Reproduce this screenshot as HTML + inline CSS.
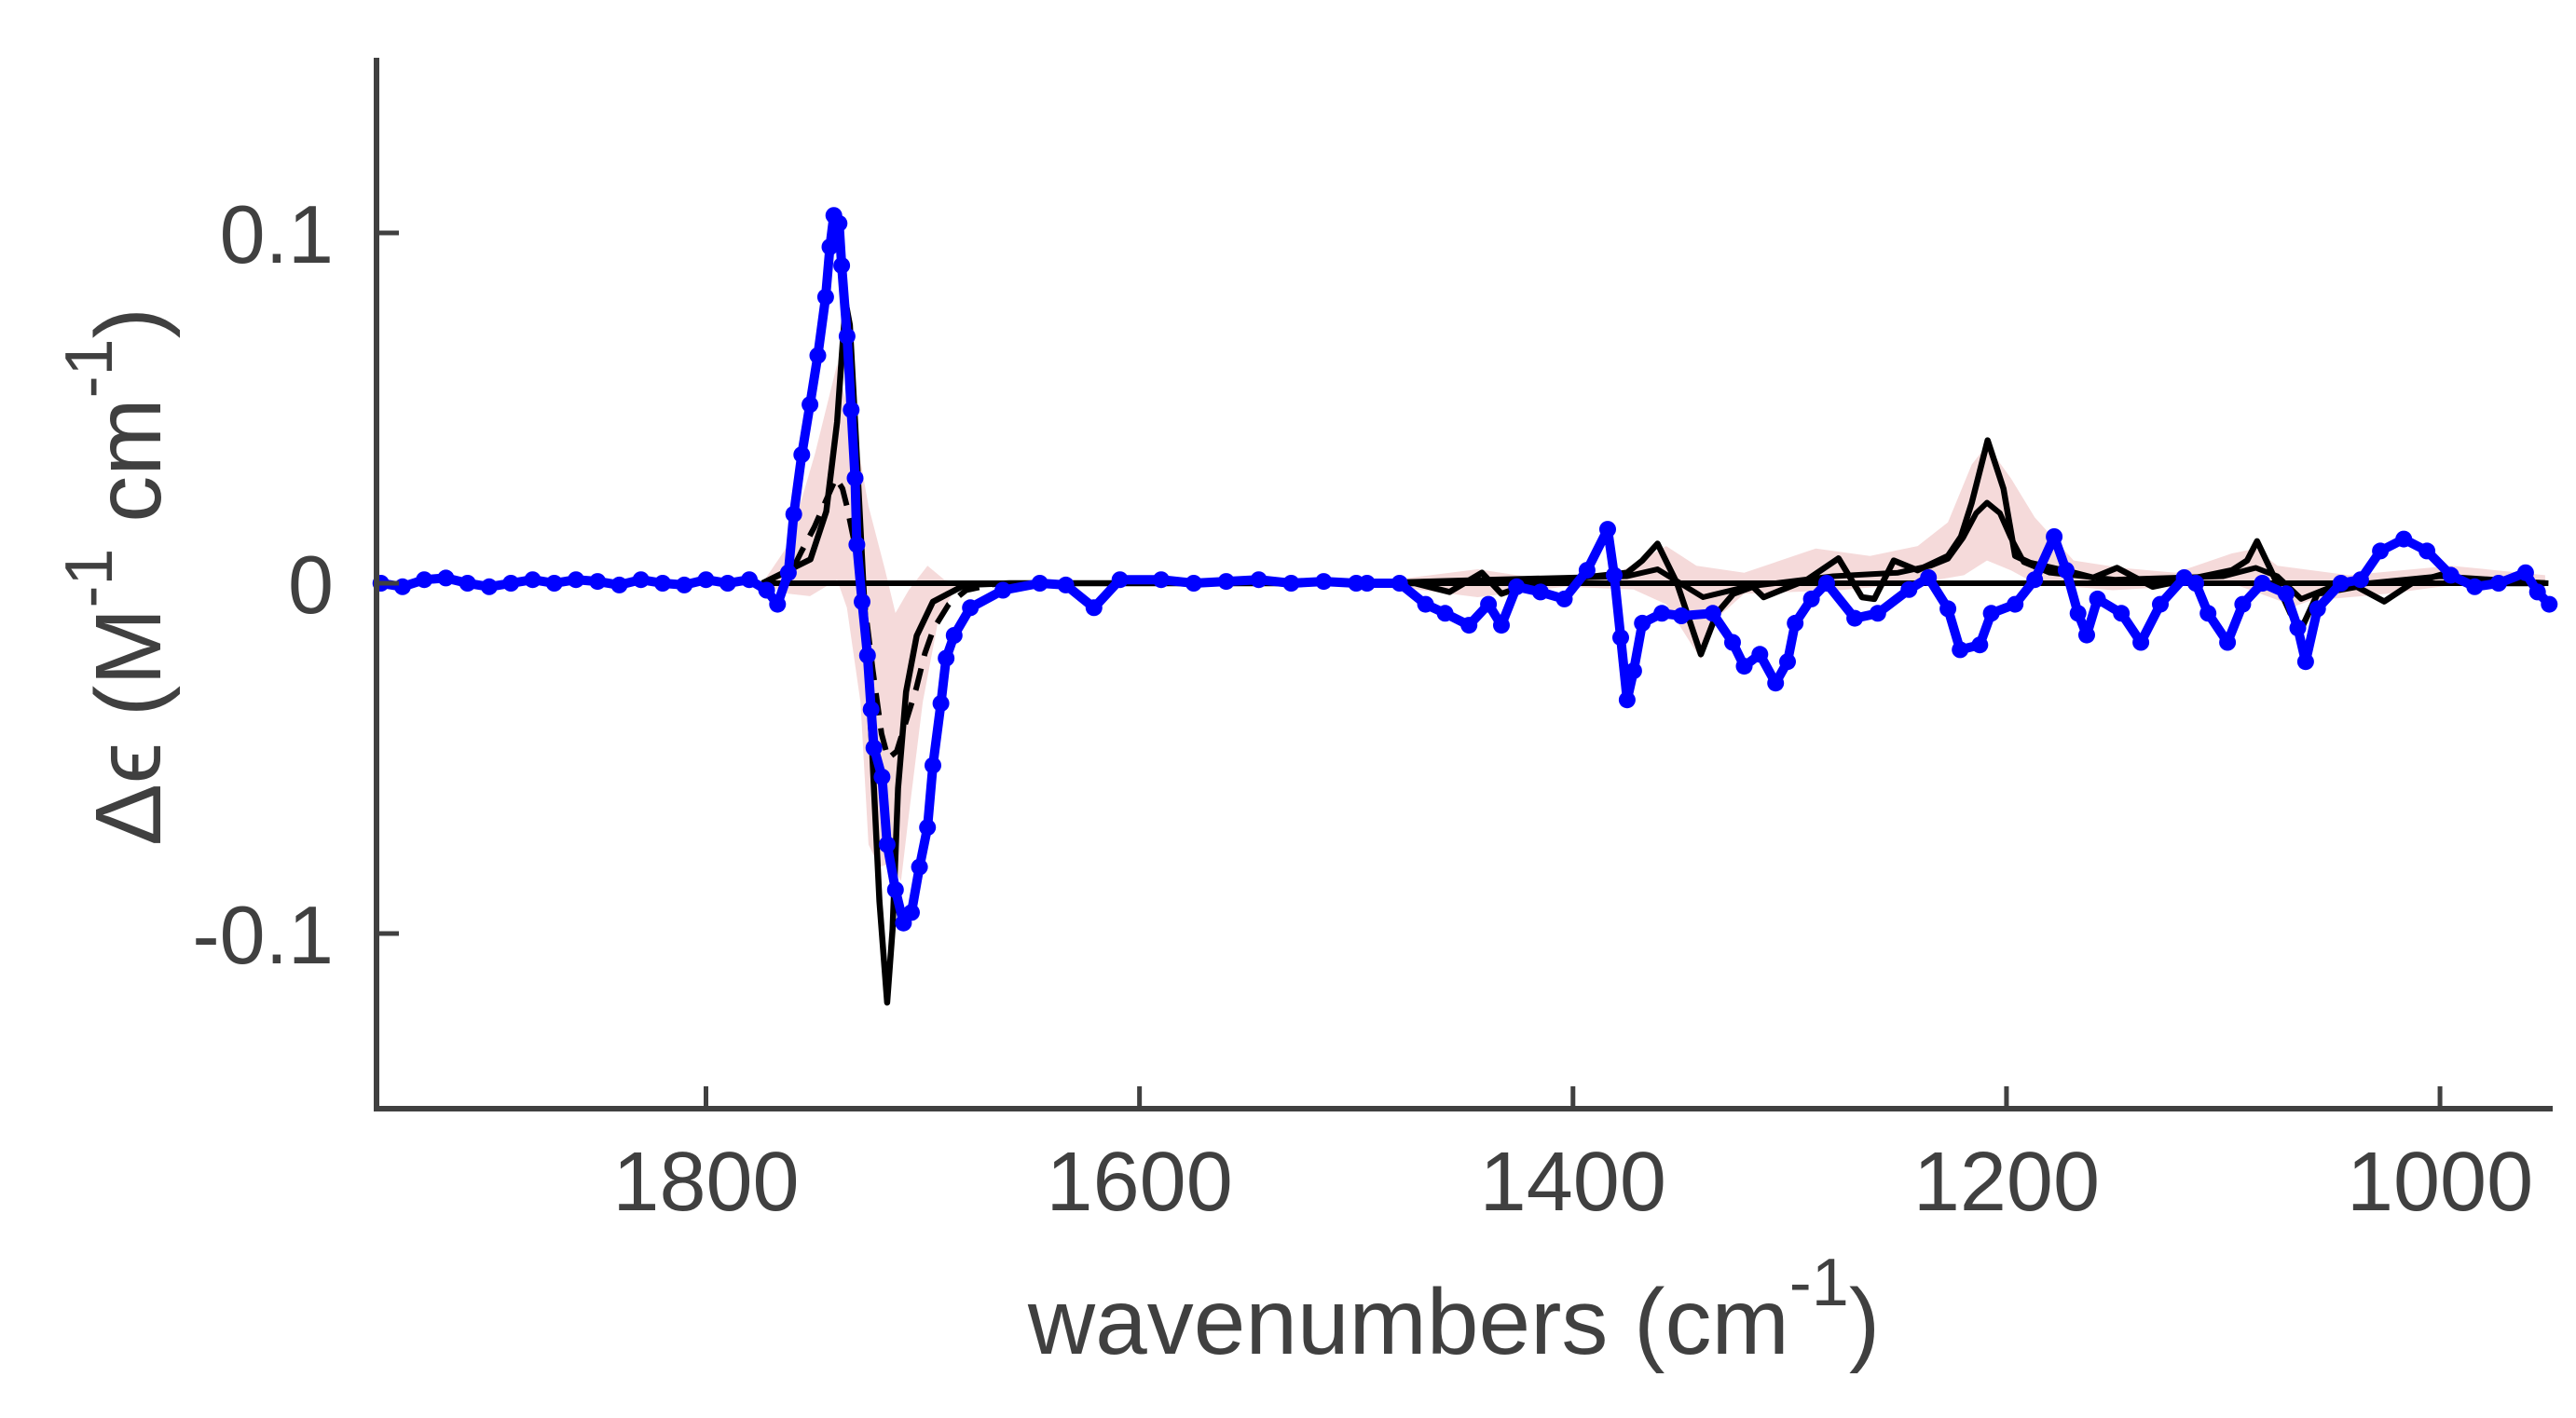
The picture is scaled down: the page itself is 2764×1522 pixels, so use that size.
<!DOCTYPE html>
<html><head><meta charset="utf-8"><title>CD spectrum</title>
<style>
html,body{margin:0;padding:0;background:#fff;}
svg{display:block;}
text{font-family:"Liberation Sans",Arial,sans-serif;fill:#404040;}
</style></head>
<body>
<svg id="chart" width="2764" height="1522" viewBox="0 0 2764 1522" xmlns="http://www.w3.org/2000/svg" style="position:absolute;left:0;top:0">
  <g id="band"></g>
  <g id="lines"></g>
  <g id="blue"></g>
  <g id="axes"></g>
  <text x="1560" y="1453" text-anchor="middle" font-size="100" fill="#404040">wavenumbers (cm<tspan dy="-52" font-size="72">-1</tspan><tspan dy="52">)</tspan></text>
  <text transform="translate(172,619) rotate(-90)" text-anchor="middle" font-size="100" fill="#404040">Δϵ (M<tspan dy="-52" font-size="72">-1</tspan><tspan dy="52"> cm</tspan><tspan dy="-52" font-size="72">-1</tspan><tspan dy="52">)</tspan></text>
</svg>
<script>
// ---- data ----
const xDomain = [1952, 948];
const yDomain = [-0.15, 0.15];
const xTicks = [1800, 1600, 1400, 1200, 1000];
const xTickLabels = ["1800", "1600", "1400", "1200", "1000"];
const yTicks = [0.1, 0, -0.1];
const yTickLabels = ["0.1", "0", "-0.1"];

const blueW = [1950,1940,1930,1920,1910,1900,1890,1880,1870,1860,1850,1840,1830,1820,1810,1800,1790,1780,1772,1767,1762,1759.5,1755.8,1752,1748.4,1744.8,1742.8,1741,1738.6,1737.4,1734.9,1733,1731.2,1730.4,1728,1725.5,1723.8,1722.5,1718.8,1716.4,1712.6,1708.9,1705.2,1701.5,1697.8,1695.3,1691.6,1689.2,1685.5,1678,1663,1646,1634,1621,1609,1590,1575,1560,1545,1530,1515,1500,1495,1480,1468,1459,1448,1439,1433,1426,1415,1404,1393.5,1384,1381,1378,1375,1372,1368,1359,1350,1335.5,1326.4,1321,1313.8,1306.5,1301,1297.5,1290,1283,1270,1259.4,1245,1236,1227,1221.4,1212.3,1207,1196,1187,1178,1172.5,1167,1163,1158,1147,1138,1129,1118,1112.7,1107,1098,1091,1082,1071,1065.6,1062,1056.5,1045.7,1036.6,1027.5,1016.7,1006,995,984,973,960.5,955,949.6];
const blueV = [0,-0.001,0.001,0.0015,0,-0.001,0,0.001,0,0.001,0.0005,-0.0005,0.001,0,-0.0005,0.001,0,0.001,-0.002,-0.006,0.003,0.0197,0.0367,0.051,0.065,0.0817,0.096,0.105,0.1027,0.0907,0.0705,0.0495,0.030,0.011,-0.0053,-0.0206,-0.036,-0.047,-0.0553,-0.0746,-0.0875,-0.097,-0.094,-0.081,-0.0697,-0.052,-0.0343,-0.0214,-0.0149,-0.007,-0.002,0,-0.0005,-0.007,0.001,0.001,0,0.0005,0.001,0,0.0005,0,0,0,-0.006,-0.0086,-0.012,-0.006,-0.012,-0.001,-0.0025,-0.0045,0.0037,0.0154,0.0023,-0.0155,-0.0333,-0.025,-0.0114,-0.0086,-0.0093,-0.0086,-0.0169,-0.0237,-0.0203,-0.0285,-0.0224,-0.0114,-0.0045,0,-0.01,-0.0086,-0.0018,0.0016,-0.0073,-0.019,-0.0176,-0.0086,-0.006,0.001,0.0133,0.0037,-0.0086,-0.0148,-0.0045,-0.0086,-0.0169,-0.006,0.0016,0,-0.0086,-0.0169,-0.006,0,-0.003,-0.0128,-0.0224,-0.0073,0,0.001,0.0092,0.0126,0.0092,0.0023,-0.001,0,0.003,-0.0025,-0.006];

const solidW = [1774,1751.8,1744.5,1739.5,1736.7,1735.5,1733.6,1731.2,1727.5,1723.8,1720,1716.4,1713.9,1711.4,1707.7,1702.8,1695.3,1680.6,1660,1500,1473,1457,1442,1433,1419,1375,1368,1361,1352,1341,1333.7,1326,1317,1312,1292,1277.5,1266.7,1261,1252,1241,1227,1221,1216,1208.7,1201.4,1196,1189,1169,1160,1149,1132.6,1096,1089,1084.4,1078,1069,1063.8,1056.5,1038.4,1025.7,1013,998.6,980.4,951.6];
const solidV = [0,0.0068,0.0205,0.046,0.0705,0.080,0.0737,0.046,0.001,-0.042,-0.0907,-0.1197,-0.0988,-0.0585,-0.031,-0.015,-0.0053,-0.0005,0,0,0,-0.0025,0.003,-0.003,0,0.003,0.0065,0.0113,0,-0.0203,-0.0086,-0.003,-0.001,-0.004,0.001,0.0071,-0.004,-0.0045,0.0065,0.0037,0.0078,0.0133,0.023,0.0408,0.027,0.0078,0.0058,0.003,0.0016,0.0044,-0.001,0.0037,0.0065,0.012,0.0037,-0.0086,-0.0128,-0.003,-0.001,-0.0052,0,0.0026,0,0];

const dashW = [1774,1760,1756,1750,1744,1740,1737,1735,1731,1727,1723,1719,1716,1712,1708,1703,1699,1695,1688,1680,1665];
const dashV = [0,0.004,0.009,0.016,0.0245,0.03,0.027,0.022,0.01,-0.005,-0.025,-0.043,-0.05,-0.048,-0.04,-0.03,-0.02,-0.013,-0.006,-0.002,0];
const dash2W = [1495,1440,1375,1361,1340,1320,1280,1250,1235,1227,1220,1214,1209,1203,1198,1192,1180,1150,1100,1085,1075,1064,1050,1000,950];
const dash2V = [0,0.001,0.002,0.004,-0.004,-0.001,0.002,0.003,0.005,0.007,0.013,0.02,0.023,0.02,0.013,0.006,0.003,0.001,0.002,0.0044,0.002,-0.0045,-0.001,0.002,0];

const zeroW = [1774, 950];
const zeroV = [0, 0];

const bandUpW = [1774,1762,1749.7,1739.5,1738.6,1731,1725,1717.6,1712.6,1706.5,1697.8,1690,1680.6,1495,1444,1404,1379,1357,1343,1321,1288,1263,1241,1227,1216,1209,1198,1187,1169,1147,1122,1096,1085,1075,1042,995,951.5];
const bandUpV = [0,0.011,0.037,0.0625,0.059,0.043,0.022,0.0044,-0.0085,-0.002,0.005,0.001,0,0,0.004,0.0003,0.003,0.0106,0.005,0.003,0.0099,0.0078,0.0106,0.0174,0.0339,0.0394,0.03,0.0188,0.0065,0.0044,0.003,0.0085,0.0099,0.005,0.0023,0.005,0.0023];
const bandLoW = [1774,1762,1752,1739.5,1735,1728.7,1725,1720,1715,1710,1706.5,1700,1693,1685.5,1670,1495,1444,1404,1372,1357,1341,1333.7,1321,1277,1241,1219.6,1209,1198,1187,1151,1096,1067,1060,1024,988,951.5];
const bandLoV = [0,-0.003,-0.0037,0.001,-0.007,-0.034,-0.0746,-0.081,-0.08,-0.085,-0.0665,-0.034,-0.011,-0.002,0,0,-0.004,-0.001,-0.0018,-0.006,-0.0217,-0.01,-0.003,-0.002,0,0.0023,0.0065,0.0037,0,-0.002,0,-0.0066,-0.005,-0.003,0,0];

// ---- scales ----
const L = 404, R = 2739, T = 62, B = 1190;
function xs(w){ return L + (xDomain[0]-w)/(xDomain[0]-xDomain[1])*(R-L); }
function ys(v){ return B - (v-yDomain[0])/(yDomain[1]-yDomain[0])*(B-T); }
const NS = "http://www.w3.org/2000/svg";
function mk(tag, parent){ const e=document.createElementNS(NS,tag); parent.appendChild(e); return e; }
function pathFrom(W,V){ return W.map((w,i)=>(i?"L":"M")+xs(w).toFixed(1)+","+ys(V[i]).toFixed(1)).join(""); }

const band = document.getElementById("band");
function bandSeg(lo, hi){
  const uw=[],uv=[],lw=[],lv=[];
  bandUpW.forEach((w,i)=>{ if(w<=hi && w>=lo){uw.push(w);uv.push(bandUpV[i]);} });
  bandLoW.forEach((w,i)=>{ if(w<=hi && w>=lo){lw.push(w);lv.push(bandLoV[i]);} });
  let d = pathFrom(uw,uv);
  for(let i=lw.length-1;i>=0;i--) d += "L"+xs(lw[i]).toFixed(1)+","+ys(lv[i]).toFixed(1);
  const p = mk("path", band);
  p.setAttribute("d", d+"Z");
  p.setAttribute("fill", "#f5dada");
  
  
}
bandSeg(1600, 1800);
bandSeg(940, 1500);

const lines = document.getElementById("lines");
const z = mk("path", lines);
z.setAttribute("d", pathFrom(zeroW, zeroV));
z.setAttribute("stroke", "#000"); z.setAttribute("stroke-width", "6"); z.setAttribute("fill", "none");



const dl = mk("path", lines);
dl.setAttribute("d", pathFrom(dashW, dashV));
dl.setAttribute("stroke", "#000"); dl.setAttribute("stroke-width", "6"); dl.setAttribute("fill", "none");
dl.setAttribute("stroke-dasharray", "24 14");



const d2 = mk("path", lines);
d2.setAttribute("d", pathFrom(dash2W, dash2V));
d2.setAttribute("stroke", "#000"); d2.setAttribute("stroke-width", "6"); d2.setAttribute("fill", "none");
d2.setAttribute("stroke-linejoin", "round");



const sl = mk("path", lines);
sl.setAttribute("d", pathFrom(solidW, solidV));
sl.setAttribute("stroke", "#000"); sl.setAttribute("stroke-width", "6.5"); sl.setAttribute("fill", "none");
sl.setAttribute("stroke-linejoin", "round");



const blue = document.getElementById("blue");
const bl = mk("path", blue);
bl.setAttribute("d", pathFrom(blueW, blueV));
bl.setAttribute("stroke", "#0000ff"); bl.setAttribute("stroke-width", "10"); bl.setAttribute("fill", "none");
bl.setAttribute("stroke-linejoin", "round");


blueW.forEach((w,i)=>{
  const c = mk("circle", blue);
  c.setAttribute("cx", xs(w).toFixed(1)); c.setAttribute("cy", ys(blueV[i]).toFixed(1));
  c.setAttribute("r", "9"); c.setAttribute("fill", "#0000ff");
  
  
});

const ax = document.getElementById("axes");
const yl = mk("line", ax);
yl.setAttribute("x1", L); yl.setAttribute("x2", L); yl.setAttribute("y1", T); yl.setAttribute("y2", B+3);
yl.setAttribute("stroke", "#404040"); yl.setAttribute("stroke-width", "6");


const xl = mk("line", ax);
xl.setAttribute("x1", L-3); xl.setAttribute("x2", R); xl.setAttribute("y1", B); xl.setAttribute("y2", B);
xl.setAttribute("stroke", "#404040"); xl.setAttribute("stroke-width", "6");



xTicks.forEach((t,i)=>{
  const tk = mk("line", ax);
  tk.setAttribute("x1", xs(t)); tk.setAttribute("x2", xs(t)); tk.setAttribute("y1", B); tk.setAttribute("y2", B-24);
  tk.setAttribute("stroke", "#404040"); tk.setAttribute("stroke-width", "5");
  
  
  const tx = mk("text", ax);
  tx.setAttribute("x", xs(t)); tx.setAttribute("y", 1299); tx.setAttribute("text-anchor", "middle");
  tx.setAttribute("font-size", "90");
  tx.textContent = xTickLabels[i];
  
  
});
yTicks.forEach((t,i)=>{
  const tk = mk("line", ax);
  tk.setAttribute("x1", L); tk.setAttribute("x2", L+24); tk.setAttribute("y1", ys(t)); tk.setAttribute("y2", ys(t));
  tk.setAttribute("stroke", "#404040"); tk.setAttribute("stroke-width", "5");
  
  
  const tx = mk("text", ax);
  tx.setAttribute("x", 358); tx.setAttribute("y", ys(t)+32); tx.setAttribute("text-anchor", "end");
  tx.setAttribute("font-size", "88");
  tx.textContent = yTickLabels[i];
  
  
});
</script>
</body></html>
